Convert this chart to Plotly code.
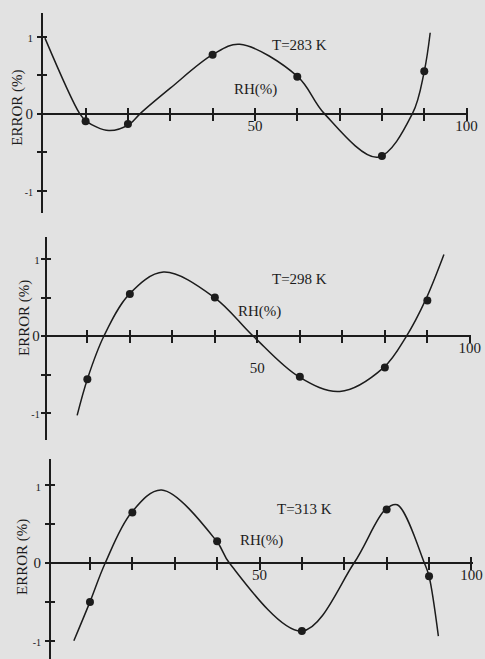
import plotly.graph_objects as go

W, H = 485, 659

# measured points (RH %, error %)
rh_points = [10, 20, 40, 60, 80, 90]
err_283 = [-0.10, -0.135, 0.765, 0.48, -0.55, 0.55]
err_298 = [-0.56, 0.545, 0.50, -0.53, -0.41, 0.46]
err_313 = [-0.50, 0.65, 0.28, -0.875, 0.69, -0.17]

# fitted curves (key points of each drawn curve)
curve_283_x = [0.4, 8.6, 10.2, 15.5, 20.4, 22.9, 30, 40, 46.4, 60.1, 66.4, 79.0, 87.2, 90, 91.4]
curve_283_y = [0.98, 0.0, -0.10, -0.22, -0.135, 0.0, 0.33, 0.765, 0.90, 0.48, 0.0, -0.565, 0.0, 0.55, 1.05]
curve_298_x = [7.6, 10, 13.9, 19.9, 27.9, 39.9, 49, 59.8, 69.4, 79.7, 85.1, 89.5, 93.9]
curve_298_y = [-1.03, -0.56, 0.0, 0.545, 0.83, 0.50, 0.0, -0.53, -0.72, -0.41, 0.0, 0.46, 1.06]
curve_313_x = [6.2, 10, 13.6, 19.8, 26.9, 39.9, 42.9, 60, 72.3, 79.7, 82.5, 88.9, 90, 92.2]
curve_313_y = [-1.0, -0.50, 0.0, 0.65, 0.94, 0.28, 0.0, -0.875, 0.0, 0.69, 0.75, 0.0, -0.17, -0.94]

labels_T = ["T=283 K", "T=298 K", "T=313 K"]
x_tickvals = [10, 20, 30, 40, 50, 60, 70, 80, 90, 100]
y_tickvals = [-1, -0.5, 0, 0.5, 1]

INK = "#1c1c1c"
BG = "#e2e2e2"
FONT = "Liberation Serif, Times New Roman, serif"

# panel geometry in pixels
panels = [
    dict(xl=42, xr=468.3, top=12.7, bot=213, xrange=[-0.3, 100.4], yrange=[-1.29, 1.31],
         cx=curve_283_x, cy=curve_283_y, py=err_283, lab=labels_T[0], ystand=1,
         tx=60.6, ty=0.89, rx=50.2, ry=0.31, title_px=(16.7, 108), fifty="50"),
    dict(xl=45.7, xr=470.7, top=236.7, bot=440, xrange=[0.2, 100.2], yrange=[-1.35, 1.29],
         cx=curve_298_x, cy=curve_298_y, py=err_298, lab=labels_T[1], ystand=-2,
         tx=59.8, ty=0.74, rx=50.5, ry=0.316, title_px=(24, 318), fifty="<br>50"),
    dict(xl=50, xr=472.7, top=459.3, bot=659, xrange=[0.57, 100.3], yrange=[-1.235, 1.335],
         cx=curve_313_x, cy=curve_313_y, py=err_313, lab=labels_T[2], ystand=1,
         tx=60.5, ty=0.70, rx=50.4, ry=0.296, title_px=(22, 557), fifty="50"),
]

fig = go.Figure()
layout = dict(template="none", width=W, height=H, margin=dict(l=0, r=0, t=0, b=0, pad=0),
              autosize=False, paper_bgcolor=BG, plot_bgcolor="rgba(0,0,0,0)",
              showlegend=False, font=dict(family=FONT, color=INK, size=15))
annotations = []

for i, p in enumerate(panels):
    n = i + 1
    m = i + 4
    xdom = [p["xl"] / W, p["xr"] / W]
    ydom = [1 - p["bot"] / H, 1 - p["top"] / H]
    y0, y1 = p["yrange"]
    frac0 = (0 - y0) / (y1 - y0)
    xpos = ydom[0] + frac0 * (ydom[1] - ydom[0])
    ypos = xdom[0]

    xt_text = ["", "", "", "", p["fifty"], "", "", "", "", "100"]
    yt_text = ['<span style="font-size:10px">-1</span>', "", "0", "",
               '<span style="font-size:11px">1</span>']

    common_x = dict(domain=xdom, range=p["xrange"], autorange=False, showgrid=False,
                    zeroline=False, tickvals=x_tickvals, tickcolor=INK, tickwidth=1.6,
                    ticklen=6, anchor="free", position=xpos, automargin=False)
    common_y = dict(domain=ydom, range=p["yrange"], autorange=False, showgrid=False,
                    zeroline=False, tickvals=y_tickvals, tickcolor=INK, tickwidth=1.6,
                    ticklen=4, anchor="free", position=ypos, automargin=False)

    layout[f"xaxis{n}"] = dict(**common_x, showline=True, linecolor=INK, linewidth=2,
                               ticks="outside", ticktext=xt_text, ticklabelstandoff=-8,
                               tickfont=dict(family=FONT, size=15, color=INK))
    layout[f"yaxis{n}"] = dict(**common_y, showline=True, linecolor=INK, linewidth=2,
                               ticks="outside", ticktext=yt_text,
                               ticklabelstandoff=p["ystand"],
                               tickfont=dict(family=FONT, size=15, color=INK))
    layout[f"xaxis{m}"] = dict(**common_x, overlaying=f"x{'' if n == 1 else n}",
                               showline=False, ticks="inside", showticklabels=False)
    layout[f"yaxis{m}"] = dict(**common_y, overlaying=f"y{'' if n == 1 else n}",
                               showline=False, ticks="inside", showticklabels=False)

    xa = "x" if n == 1 else f"x{n}"
    ya = "y" if n == 1 else f"y{n}"
    fig.add_trace(go.Scatter(x=p["cx"], y=p["cy"], mode="lines",
                             line=dict(color=INK, width=1.5, shape="spline", smoothing=1.0),
                             xaxis=xa, yaxis=ya, hoverinfo="skip"))
    fig.add_trace(go.Scatter(x=rh_points, y=p["py"], mode="markers",
                             marker=dict(color=INK, size=8),
                             xaxis=f"x{m}", yaxis=f"y{m}"))

    annotations.append(dict(x=p["tx"], y=p["ty"], xref=xa, yref=ya, text=p["lab"],
                            showarrow=False, xanchor="center", yanchor="middle",
                            font=dict(family=FONT, size=15, color=INK)))
    annotations.append(dict(x=p["rx"], y=p["ry"], xref=xa, yref=ya, text="RH(%)",
                            showarrow=False, xanchor="center", yanchor="middle",
                            font=dict(family=FONT, size=15, color=INK)))
    tx, ty = p["title_px"]
    annotations.append(dict(x=tx / W, y=1 - ty / H, xref="paper", yref="paper",
                            text="ERROR (%)", textangle=-90, showarrow=False,
                            xanchor="center", yanchor="middle",
                            font=dict(family=FONT, size=15, color=INK)))

layout["annotations"] = annotations
fig.update_layout(**layout)
fig.write_html(
    "out.html",
    config={"displayModeBar": False, "responsive": False},
    post_script=(
        "document.documentElement.style.overflow='hidden';"
        "document.body.style.margin='0';"
        "document.body.style.background='%s';" % BG
    ),
)
